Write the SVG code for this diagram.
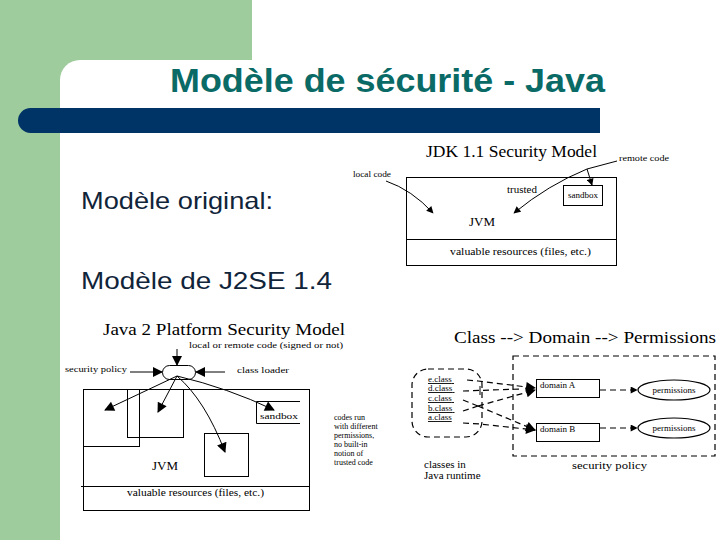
<svg xmlns="http://www.w3.org/2000/svg" width="720" height="540" viewBox="0 0 720 540">
<style>
.serif{font-family:"Liberation Serif","DejaVu Serif",serif;fill:#000}
.ln{fill:none;stroke:#000;stroke-width:1}
.dash{fill:none;stroke:#000;stroke-width:1.2;stroke-dasharray:6 4}
.box{fill:#fff;stroke:#000;stroke-width:1}
.body{font-family:"Liberation Sans",Arial,sans-serif;font-size:24px;fill:#10243a}
</style>
<defs>
<marker id="ah" viewBox="0 0 10 10" refX="9" refY="5" markerWidth="9" markerHeight="7" orient="auto" markerUnits="userSpaceOnUse"><path d="M0,0 L10,5 L0,10 z" fill="#000"/></marker>
<marker id="ahb" viewBox="0 0 10 10" refX="9" refY="5" markerWidth="13" markerHeight="10" orient="auto" markerUnits="userSpaceOnUse"><path d="M0,0 L10,5 L0,10 z" fill="#000"/></marker>
</defs>
<!-- background -->
<rect x="0" y="0" width="720" height="540" fill="#fff"/>
<rect x="0" y="0" width="252" height="80" fill="#9ecc9c"/>
<rect x="0" y="0" width="60" height="540" fill="#9ecc9c"/>
<rect x="60" y="60" width="660" height="480" rx="20" fill="#fff"/>
<rect x="60" y="80" width="40" height="460" fill="#fff"/>
<path d="M30.5,108 L600,108 L600,133 L30.5,133 A12.5,12.5 0 0 1 30.5,108 Z" fill="#003366"/>
<text x="170" y="92" font-family="Liberation Sans,Arial,sans-serif" font-weight="bold" font-size="33" fill="#0a6a66" textLength="435" lengthAdjust="spacingAndGlyphs">Modèle de sécurité - Java</text>
<text class="body" x="81" y="209" textLength="192" lengthAdjust="spacingAndGlyphs">Modèle original:</text>
<text class="body" x="81" y="289" textLength="251" lengthAdjust="spacingAndGlyphs">Modèle de J2SE 1.4</text>

<!-- JDK 1.1 Security Model -->
<g id="jdk11">
<text class="serif" x="426" y="157" font-size="17" textLength="171" lengthAdjust="spacingAndGlyphs">JDK 1.1 Security Model</text>
<text class="serif" x="619" y="161" font-size="8" textLength="50" lengthAdjust="spacingAndGlyphs">remote code</text>
<text class="serif" x="353" y="177" font-size="8" textLength="38" lengthAdjust="spacingAndGlyphs">local code</text>
<rect class="box" x="406.5" y="177.5" width="210" height="88"/>
<line class="ln" x1="406.5" y1="239.5" x2="616.5" y2="239.5"/>
<rect class="box" x="563.5" y="185.5" width="39" height="20"/>
<text class="serif" x="568" y="198" font-size="8" textLength="30" lengthAdjust="spacingAndGlyphs">sandbox</text>
<text class="serif" x="507" y="193" font-size="11">trusted</text>
<text class="serif" x="469" y="226" font-size="13">JVM</text>
<text class="serif" x="450" y="255" font-size="11" textLength="141" lengthAdjust="spacingAndGlyphs">valuable resources (files, etc.)</text>
</g>
<g id="jdk11-connectors">
<path class="ln" d="M386,181 Q412,190 433,213" marker-end="url(#ah)"/>
<path class="ln" d="M617,161 L587,169 Q548,185 514,213" marker-end="url(#ah)"/>
<path class="ln" d="M587,169 L592,185" marker-end="url(#ah)"/>
</g>

<!-- Java 2 Platform Security Model -->
<g id="java2">
<text class="serif" x="103" y="335" font-size="17" textLength="242" lengthAdjust="spacingAndGlyphs">Java 2 Platform Security Model</text>
<text class="serif" x="189" y="348" font-size="9" textLength="154" lengthAdjust="spacingAndGlyphs">local or remote code (signed or not)</text>
<text class="serif" x="65" y="372" font-size="9" textLength="62" lengthAdjust="spacingAndGlyphs">security policy</text>
<text class="serif" x="237" y="373" font-size="9" textLength="52" lengthAdjust="spacingAndGlyphs">class loader</text>
<rect class="box" x="162.5" y="365.5" width="33" height="14" rx="7"/>
<rect class="box" x="83.5" y="389.5" width="226" height="121"/>
<line class="ln" x1="81" y1="486.5" x2="309.5" y2="486.5"/>
<rect fill="none" stroke="#000" x="83.5" y="389.5" width="56" height="57"/>
<rect fill="none" stroke="#000" x="127.5" y="389.5" width="56" height="48"/>
<rect fill="none" stroke="#000" x="204.5" y="433.5" width="44" height="43"/>
<polyline class="ln" points="300,401.5 256.5,401.5 256.5,423.5 300,423.5"/>
<text class="serif" x="260" y="419" font-size="9" textLength="38" lengthAdjust="spacingAndGlyphs">sandbox</text>
<text class="serif" x="152" y="470" font-size="13">JVM</text>
<text class="serif" x="127" y="496" font-size="11" textLength="137" lengthAdjust="spacingAndGlyphs">valuable resources (files, etc.)</text>
<text class="serif" font-size="8">
<tspan x="334" y="420">codes run</tspan>
<tspan x="334" y="429">with different</tspan>
<tspan x="334" y="438">permissions,</tspan>
<tspan x="334" y="447">no built-in</tspan>
<tspan x="334" y="456">notion of</tspan>
<tspan x="334" y="465">trusted code</tspan>
</text>
</g>
<g id="java2-connectors">
<line class="ln" x1="177" y1="349" x2="177" y2="365" stroke-width="1.3" marker-end="url(#ahb)"/>
<line class="ln" x1="130" y1="372" x2="162" y2="372" stroke-width="1.3" marker-end="url(#ahb)"/>
<line class="ln" x1="225" y1="372" x2="196" y2="372" stroke-width="1.3" marker-end="url(#ahb)"/>
<line class="ln" x1="177" y1="376" x2="105" y2="410" stroke-width="1.3" marker-end="url(#ahb)"/>
<line class="ln" x1="177" y1="376" x2="158" y2="412" stroke-width="1.3" marker-end="url(#ahb)"/>
<path class="ln" d="M177,376 Q205,400 225,452" stroke-width="1.3" marker-end="url(#ahb)"/>
<path class="ln" d="M177,376 Q228,388 274,410" stroke-width="1.3" marker-end="url(#ahb)"/>
</g>

<!-- Class -> Domain -> Permissions -->
<g id="cdp">
<text class="serif" x="454" y="343" font-size="16" textLength="262" lengthAdjust="spacingAndGlyphs">Class --&gt; Domain --&gt; Permissions</text>
<rect class="dash" x="513" y="356" width="202" height="100"/>
<rect class="box" x="536.5" y="379.5" width="63" height="18"/>
<text class="serif" x="540" y="388" font-size="9">domain A</text>
<rect class="box" x="536.5" y="423.5" width="63" height="18"/>
<text class="serif" x="540" y="432" font-size="9">domain B</text>
<ellipse fill="#fff" stroke="#000" stroke-width="1.2" cx="674" cy="390" rx="36" ry="10"/>
<text class="serif" x="674" y="393" font-size="9" text-anchor="middle">permissions</text>
<ellipse fill="#fff" stroke="#000" stroke-width="1.2" cx="674" cy="428" rx="36" ry="10"/>
<text class="serif" x="674" y="431" font-size="9" text-anchor="middle">permissions</text>
<rect class="dash" x="412" y="369" width="70" height="68" rx="16"/>
<text class="serif" font-size="9" text-decoration="underline">
<tspan x="428" y="382">e.class</tspan>
<tspan x="428" y="391">d.class</tspan>
<tspan x="428" y="401">c.class</tspan>
<tspan x="428" y="411">b.class</tspan>
<tspan x="428" y="420">a.class</tspan>
</text>
<text class="serif" font-size="11">
<tspan x="424" y="468">classes in</tspan>
<tspan x="424" y="479">Java runtime</tspan>
</text>
<text class="serif" x="572" y="469" font-size="11" textLength="75" lengthAdjust="spacingAndGlyphs">security policy</text>
</g>
<g id="cdp-connectors">
<path class="dash" d="M467,380 L478,381 L535,388" marker-end="url(#ahb)"/>
<path class="dash" d="M463,391 L520,389"/>
<line class="ln" x1="480" y1="386" x2="480" y2="395"/>
<path class="dash" d="M463,400 L478,406"/>
<path class="dash" d="M463,411 L478,406"/>
<path class="dash" d="M478,406 L535,390" marker-end="url(#ahb)"/>
<path class="dash" d="M478,406 L535,430" marker-end="url(#ahb)"/>
<path class="dash" d="M463,423 L480,424 L535,430" marker-end="url(#ahb)"/>
<path class="dash" d="M600,390 L637,390" marker-end="url(#ah)"/>
<path class="dash" d="M600,428 L637,428" marker-end="url(#ah)"/>
</g>
</svg>
